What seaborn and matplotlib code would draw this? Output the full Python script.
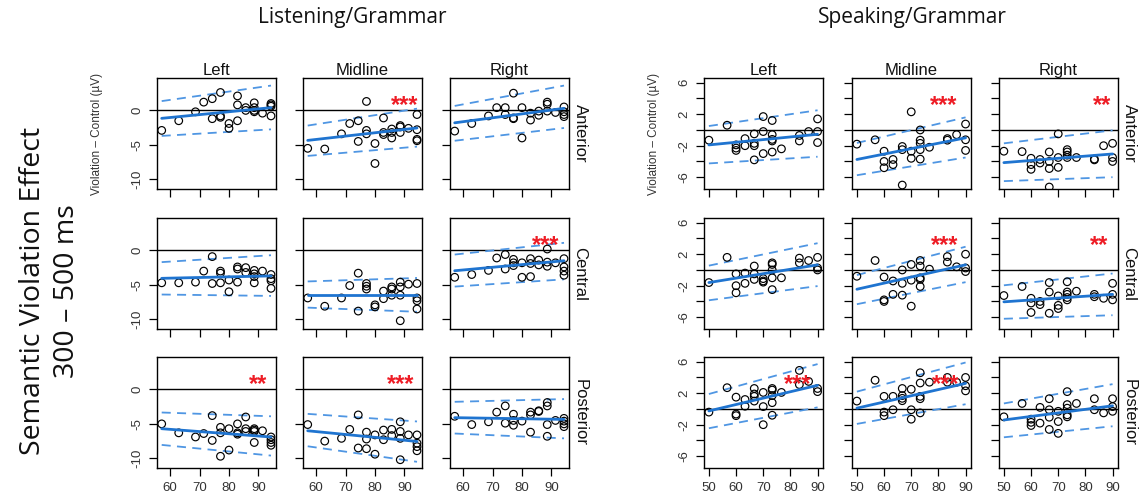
import matplotlib
matplotlib.use("Agg")
import matplotlib.pyplot as plt
import pandas as pd
import seaborn as sns

ROWS = ["Anterior", "Central", "Posterior"]
COLS = ["Left", "Midline", "Right"]

# ---------------------------------------------------------------
# Listening / Grammar: proficiency score -> violation effect (µV)
# ---------------------------------------------------------------
lis_ant_left = {57.1: [-2.9], 62.9: [-1.5], 68.6: [-0.2], 71.4: [1.2], 74.3: [1.7, -1.2],
                77.1: [2.6, -0.8, -1.0], 80.0: [-1.9, -2.6], 82.9: [2.1, 0.8, -1.5], 85.7: [0.4, 0.0],
                88.6: [1.1, 0.4, 0.0, -0.2], 91.4: [-0.4], 94.3: [1.0, 0.8, 0.6, -0.8]}
lis_ant_mid = {57.1: [-5.5], 62.9: [-5.6], 68.6: [-3.4], 71.4: [-1.9], 74.3: [-1.5, -4.5],
               77.1: [1.3, -2.9, -3.4], 80.0: [-4.8, -7.7], 82.9: [-1.1, -3.2, -3.5],
               85.7: [-2.7, -3.2, -4.0], 88.6: [-2.2, -2.4, -3.2], 91.4: [-2.6],
               94.3: [-0.6, -2.8, -4.2, -4.4]}
lis_ant_right = {57.1: [-3.0], 62.9: [-1.9], 68.6: [-0.8], 71.4: [0.4], 74.3: [0.4, -0.6],
                 77.1: [2.5, -1.1, -1.2], 80.0: [0.4, -4.0], 82.9: [-0.4, -1.4], 85.7: [-0.1, -0.7],
                 88.6: [1.2, 0.9, -0.1], 91.4: [-0.3], 94.3: [0.5, -0.2, -0.6, -0.9]}
lis_cen_left = {57.1: [-4.7], 62.9: [-4.7], 68.6: [-4.6], 71.4: [-3.0], 74.3: [-0.9, -4.8],
                77.1: [-3.0, -3.3, -4.7], 80.0: [-4.3, -6.0], 82.9: [-2.4, -2.7, -4.6],
                85.7: [-2.5, -3.2], 88.6: [-2.9, -3.4, -3.8, -4.7], 91.4: [-3.0],
                94.3: [-3.5, -4.1, -4.4, -5.5]}
lis_cen_mid = {57.1: [-6.9], 62.9: [-8.1], 68.6: [-6.9], 71.4: [-5.1], 74.3: [-3.3, -8.8],
               77.1: [-4.8, -5.2, -5.6], 80.0: [-7.9, -8.2], 82.9: [-5.9, -7.0],
               85.7: [-5.3, -5.6, -6.5], 88.6: [-4.6, -5.3, -6.5, -10.2], 91.4: [-4.9],
               94.3: [-4.8, -6.9, -7.3, -8.5]}
lis_cen_right = {57.1: [-3.9], 62.9: [-3.5], 68.6: [-2.9], 71.4: [-1.1], 74.3: [-0.6, -2.7],
                 77.1: [-1.3, -1.8, -2.2], 80.0: [-1.8, -3.9], 82.9: [-1.2, -1.9, -3.8],
                 85.7: [-1.4, -2.1], 88.6: [0.2, -1.7, -2.3], 91.4: [-1.8],
                 94.3: [-1.2, -2.4, -3.0, -3.6]}
lis_pos_left = {57.1: [-5.0], 62.9: [-6.3], 68.6: [-6.9], 71.4: [-6.4], 74.3: [-3.8, -7.4],
                77.1: [-5.5, -6.3, -9.7], 80.0: [-5.7, -8.8], 82.9: [-5.0, -6.3, -6.5],
                85.7: [-4.0, -5.7, -6.1], 88.6: [-5.7, -5.9, -6.1, -7.7], 91.4: [-6.0],
                94.3: [-6.9, -7.3, -7.7, -8.1]}
lis_pos_mid = {57.1: [-5.1], 62.9: [-7.5], 68.6: [-7.1], 71.4: [-5.8], 74.3: [-3.7, -8.5],
               77.1: [-6.2, -7.2, -8.6], 80.0: [-6.6, -9.4], 82.9: [-5.9, -7.3], 85.7: [-5.8, -6.7],
               88.6: [-4.7, -6.1, -7.1, -10.2], 91.4: [-6.6], 94.3: [-6.6, -7.8, -8.3, -8.9]}
lis_pos_right = {57.1: [-3.9], 62.9: [-5.1], 68.6: [-4.7], 71.4: [-3.3], 74.3: [-2.4, -4.9],
                 77.1: [-3.6, -4.5, -5.2], 80.0: [-4.6], 82.9: [-3.3, -3.7, -6.2], 85.7: [-3.1, -3.2],
                 88.6: [-1.9, -2.4, -5.1, -6.8], 91.4: [-4.5], 94.3: [-4.2, -4.6, -5.0, -5.4]}

# model fit and prediction band, value at lowest / highest score (rows x cols)
lis_score_range = [57.1, 94.3]
lis_fit = [[(-1.15, 0.4), (-4.35, -2.55), (-1.8, 0.3)],
           [(-4.05, -3.7), (-6.5, -6.5), (-2.95, -1.5)],
           [(-5.7, -6.9), (-6.0, -7.55), (-4.1, -4.35)]]
lis_upper = [[(1.35, 3.6), (-2.2, 0.25), (0.65, 3.6)],
             [(-1.7, -0.7), (-4.5, -4.0), (-0.6, 1.1)],
             [(-3.35, -3.9), (-3.55, -4.65), (-1.8, -1.4)]]
lis_lower = [[(-3.7, -2.75), (-6.6, -5.25), (-4.4, -2.55)],
             [(-6.4, -6.6), (-8.3, -8.9), (-5.25, -4.2)],
             [(-8.05, -9.6), (-8.25, -10.5), (-6.4, -7.1)]]
lis_stars = [["", "***", ""],
             ["", "", "***"],
             ["**", "***", ""]]

# ---------------------------------------------------------------
# Speaking / Grammar
# ---------------------------------------------------------------
spk_ant_left = {50: [-1.3], 56.7: [0.6], 60: [-1.9, -2.3, -2.6], 63.3: [-1.1, -2.0],
                66.7: [-0.5, -1.7, -2.0, -3.8], 70: [1.7, -0.2, -3.0],
                73.3: [1.2, -0.6, -1.2, -1.4, -2.8], 76.7: [-2.4], 83.3: [-0.7, -1.4],
                86.7: [-0.2], 90: [1.4, -0.2, -1.6]}
spk_ant_mid = {50: [-1.8], 56.7: [-1.25], 60: [-2.7, -4.0, -4.8], 63.3: [-3.75, -4.4],
               66.7: [-2.1, -2.5, -7.0], 70: [2.3, -2.7, -3.6],
               73.3: [0.0, -1.3, -1.7, -2.5, -3.7], 76.7: [-2.2], 83.3: [-1.1, -1.3],
               86.7: [-0.6], 90: [0.75, -1.25, -2.6]}
spk_ant_right = {50: [-2.7], 56.7: [-2.75], 60: [-3.6, -4.4, -5.0], 63.3: [-3.75, -4.2],
                 66.7: [-2.8, -4.0, -4.9, -7.25], 70: [-0.5, -3.5, -4.75],
                 73.3: [-2.5, -2.8, -3.2, -3.5], 76.7: [-3.5], 83.3: [-3.7, -3.8],
                 86.7: [-2.0], 90: [-1.7, -3.5, -4.0]}
spk_cen_left = {50: [-1.6], 56.7: [1.6], 60: [-0.5, -2.0, -2.9], 63.3: [-0.4, -1.7],
                66.7: [0.5, -0.5, -1.2], 70: [-1.1, -1.4, -1.55],
                73.3: [0.9, 0.7, 0.0, -1.0, -2.5], 76.7: [-1.0], 83.3: [1.5, 0.9],
                86.7: [1.2], 90: [1.6, 0.25, 0.0]}
spk_cen_mid = {50: [-0.8], 56.7: [1.2], 60: [-0.9, -3.8, -4.0], 63.3: [-1.4, -3.1],
               66.7: [0.0, -1.7, -3.2], 70: [0.7, -1.3, -4.6],
               73.3: [1.2, 0.5, -1.0, -1.2, -2.1], 76.7: [0.1], 83.3: [1.7, 1.0],
               86.7: [0.4], 90: [2.0, 0.25, -0.2]}
spk_cen_right = {50: [-3.25], 56.7: [-2.1], 60: [-3.6, -4.2, -5.4], 63.3: [-4.0, -4.4],
                 66.7: [-1.6, -2.8, -5.5], 70: [-3.3, -4.5, -4.9],
                 73.3: [-1.5, -2.8, -3.1, -3.5, -3.8], 76.7: [-2.7], 83.3: [-3.1, -3.4],
                 86.7: [-3.6], 90: [-1.7, -3.1, -3.8]}
spk_pos_left = {50: [-0.4], 56.7: [2.7], 60: [1.5, -0.65, -0.85], 63.3: [1.2, 0.35],
                66.7: [2.6, 1.9, 1.6, 1.0], 70: [2.1, 0.3, -2.0],
                73.3: [2.6, 2.4, 1.7, 0.8, -0.8], 76.7: [2.1], 83.3: [4.9, 3.1],
                86.7: [3.5], 90: [2.6, 2.2]}
spk_pos_mid = {50: [1.0], 56.7: [3.65], 60: [1.6, -0.4, -0.85], 63.3: [1.6, -0.1],
               66.7: [2.6, 1.7, 1.35, 1.05], 70: [2.5, -0.1, -1.3],
               73.3: [4.6, 3.3, 1.6, 1.3, -0.5], 76.7: [3.4], 83.3: [4.0, 3.4],
               86.7: [3.4], 90: [4.0, 2.95, 2.3]}
spk_pos_right = {50: [-1.0], 56.7: [0.7], 60: [-1.3, -1.7, -2.1], 63.3: [0.2, -1.8],
                 66.7: [1.3, -0.1, -1.05, -2.6], 70: [-0.3, -1.6, -3.1],
                 73.3: [2.2, 0.55, 0.1, -0.75, -1.0], 76.7: [0.7], 83.3: [1.3, -0.1],
                 86.7: [-0.5], 90: [1.3, 0.3, -0.3]}

spk_score_range = [50, 90]
spk_fit = [[(-1.9, -0.55), (-3.75, -1.0), (-4.15, -3.05)],
           [(-1.6, 0.65), (-2.45, 0.65), (-4.05, -3.1)],
           [(-0.25, 3.0), (0.1, 3.25), (-1.4, 0.4)]]
spk_upper = [[(0.5, 2.5), (-1.65, 1.6), (-1.7, -0.05)],
             [(0.55, 3.4), (-0.65, 2.95), (-1.95, -0.45)],
             [(1.9, 5.7), (2.2, 5.9), (0.7, 3.15)]]
spk_lower = [[(-4.25, -3.4), (-5.75, -3.5), (-6.5, -6.0)],
             [(-3.85, -2.05), (-4.35, -1.55), (-6.2, -5.75)],
             [(-2.45, 0.2), (-1.9, 0.6), (-3.6, -2.2)]]
spk_stars = [["", "***", "**"],
             ["", "***", "**"],
             ["***", "***", ""]]

lis_points = [[lis_ant_left, lis_ant_mid, lis_ant_right],
              [lis_cen_left, lis_cen_mid, lis_cen_right],
              [lis_pos_left, lis_pos_mid, lis_pos_right]]
spk_points = [[spk_ant_left, spk_ant_mid, spk_ant_right],
              [spk_cen_left, spk_cen_mid, spk_cen_right],
              [spk_pos_left, spk_pos_mid, spk_pos_right]]

# ---------------------------------------------------------------
sns.set_theme(style="ticks")
plt.rcParams["font.family"] = ["Liberation Sans", "DejaVu Sans"]

W, H = 1142, 498
fig = plt.figure(figsize=(W / 100, H / 100), dpi=100)

FIT_BLUE = "#1f74d0"
BAND_BLUE = "#4f96e3"
TICK_COLOR = "#333333"


def add_px_axes(left, top, width, height):
    return fig.add_axes([left / W, 1 - (top + height) / H, width / W, height / H])


def draw_panel(ax, points, xr, fit, upper, lower):
    df = pd.DataFrame([(x, y) for x, ys in points.items() for y in ys],
                      columns=["score", "effect"])
    ax.axhline(0, color="black", lw=1.0, zorder=1)
    for bound in (upper, lower):
        sns.lineplot(x=xr, y=list(bound), ax=ax, color=BAND_BLUE, lw=1.3,
                     linestyle=(0, (5, 3.5)), zorder=2)
    sns.lineplot(x=xr, y=list(fit), ax=ax, color=FIT_BLUE, lw=2.0, zorder=4)
    sns.scatterplot(data=df, x="score", y="effect", ax=ax, marker="o", s=30,
                    facecolors="none", edgecolor="black", linewidth=0.85, zorder=3)
    ax.set_xlabel("")
    ax.set_ylabel("")


def draw_group(col_lefts, points, xr, fit, upper, lower, stars, xlim, ylim,
               xticks, yticks, yticklabels, star_pos, ylabel_x):
    row_tops = [78, 218, 357]
    for r in range(3):
        for c in range(3):
            ax = add_px_axes(col_lefts[c], row_tops[r], 119, 111)
            draw_panel(ax, points[r][c], xr, fit[r][c], upper[r][c], lower[r][c])
            ax.set_xlim(*xlim)
            ax.set_ylim(*ylim)
            ax.set_xticks(xticks)
            ax.set_yticks(yticks)
            ax.set_xticklabels([str(t) for t in xticks])
            ax.set_yticklabels(yticklabels)
            ax.tick_params(direction="out", length=6, width=0.9, color="black",
                           labelsize=9.5, labelcolor=TICK_COLOR, pad=4)
            ax.tick_params(axis="y", labelrotation=90)
            for lab in ax.get_yticklabels():
                lab.set_va("center")
            if c > 0:
                ax.tick_params(axis="y", labelleft=False)
            if r < 2:
                ax.tick_params(axis="x", labelbottom=False)
            for sp in ax.spines.values():
                sp.set_color("black")
                sp.set_linewidth(1.0)
                sp.set_visible(True)
            if r == 0:
                ax.set_title(COLS[c], fontsize=12, pad=2, color="#111111")
            if c == 2:
                ax.text(1.03, 0.5, ROWS[r], transform=ax.transAxes, rotation=270,
                        ha="left", va="center", fontsize=12, color="#111111")
            if r == 0 and c == 0:
                ax.set_ylabel("Violation \u2013 Control (\u00b5V)", fontsize=8.5,
                              color=TICK_COLOR)
                ax.yaxis.set_label_coords(ylabel_x, 0.5)
            if stars[r][c]:
                ax.text(star_pos[r][c], 0.695, stars[r][c], transform=ax.transAxes,
                        ha="center", va="baseline", color="#ee1c25", fontsize=17,
                        fontweight="bold")


draw_group([157, 303, 450], lis_points, lis_score_range, lis_fit, lis_upper, lis_lower,
           lis_stars, (55.5, 96.0), (-11.4, 4.7), [60, 70, 80, 90], [-10, -5, 0],
           ["-10", "-5", "0"],
           [[0, 0.85, 0], [0, 0, 0.80], [0.85, 0.82, 0]], -0.45)
draw_group([704, 852, 999], spk_points, spk_score_range, spk_fit, spk_upper, spk_lower,
           spk_stars, (48.2, 92.0), (-7.5, 6.6), [50, 60, 70, 80, 90],
           [-6, -4, -2, 0, 2, 4, 6], ["-6", "", "-2", "", "2", "", "6"],
           [[0, 0.77, 0.87], [0, 0.78, 0.84], [0.79, 0.79, 0]], -0.37)

fig.text(352 / W, 1 - 18 / H, "Listening/Grammar", ha="center", va="center",
         fontsize=15, family=["Open Sans", "DejaVu Sans"], color="#111111")
fig.text(912 / W, 1 - 18 / H, "Speaking/Grammar", ha="center", va="center",
         fontsize=15, family=["Open Sans", "DejaVu Sans"], color="#111111")
fig.text(33 / W, 1 - 291 / H, "Semantic Violation Effect", rotation=90, ha="center",
         va="center", fontsize=20.5, family=["Open Sans", "DejaVu Sans"], color="#111111")
fig.text(67 / W, 1 - 291 / H, "300 \u2013 500 ms", rotation=90, ha="center",
         va="center", fontsize=20.5, family=["Open Sans", "DejaVu Sans"], color="#111111")

fig.savefig("out.png", dpi=100, facecolor="white")
